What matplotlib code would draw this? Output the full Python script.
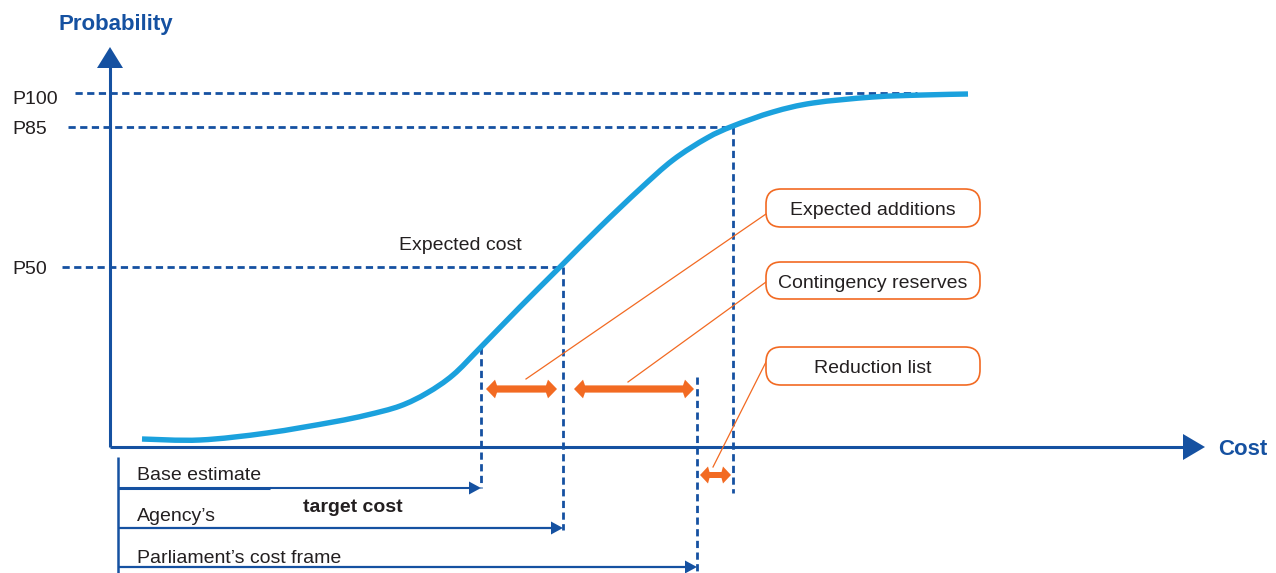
import matplotlib
matplotlib.use("Agg")
import matplotlib.pyplot as plt
from matplotlib import font_manager
from matplotlib.patches import Polygon, FancyBboxPatch, PathPatch
from matplotlib.path import Path
import numpy as np

# ---------------------------------------------------------------- data
# cumulative probability curve (schematic units: cost to the right, probability up)
curve_cost = [32, 90, 157, 223, 257, 290, 317, 343, 370, 410, 450, 490,
              530, 563, 597, 623, 663, 703, 763, 813, 858]
curve_prob = [8, 7, 14, 25, 32, 41, 54, 72, 99, 140, 180, 220,
              258, 287, 309, 321, 335, 344, 350, 352, 353]

prob_labels = ["P100", "P85", "P50"]
prob_levels = [354, 320, 180]

base_cost = 371        # base estimate
expected_cost = 453    # expected cost (P50) = agency's target cost
frame_cost = 587       # parliament's cost frame
p85_cost = 623         # P85 cost

cost_bars = ["Base estimate", "Agency\u2019s", "Parliament\u2019s cost frame"]
cost_bar_ends = [base_cost, expected_cost, frame_cost]

callouts = ["Expected additions", "Contingency reserves", "Reduction list"]

# ---------------------------------------------------------------- style
BLUE = "#1551A1"
CURVE = "#1BA1DD"
ORANGE = "#F26A22"
TEXT = "#231F20"

names = {f.name for f in font_manager.fontManager.ttflist}
if "Liberation Sans Narrow" in names:
    REG = ["Liberation Sans Narrow", "DejaVu Sans"]
    REG_SIZE = 16.5
else:
    REG = ["Liberation Sans", "DejaVu Sans"]
    REG_SIZE = 14
BOLD = ["Liberation Sans", "DejaVu Sans"]
TXT_DY = -2.5   # small downward nudge so glyphs sit on their guide lines

W, H = 1276, 573
fig = plt.figure(figsize=(W / 100, H / 100), dpi=100)
ax = fig.add_axes([0, 0, 1, 1])
# origin of the chart sits at the axes crossing; one unit = one pixel
ax.set_xlim(-110, W - 110)
ax.set_ylim(447 - H, 447)
ax.axis("off")

DASH = (0, (2.6, 1.6))


def label(x, y, s, **kw):
    opts = dict(color=TEXT, fontsize=REG_SIZE, family=REG, va="center")
    opts.update(kw)
    ax.text(x, y + TXT_DY, s, **opts)


def head(tip_x, tip_y, dx, dy, length, half, color):
    """Filled triangular arrow head pointing along (dx, dy)."""
    px, py = -dy, dx
    bx, by = tip_x - dx * length, tip_y - dy * length
    pts = [(tip_x, tip_y), (bx + px * half, by + py * half),
           (bx - px * half, by - py * half)]
    ax.add_patch(Polygon(pts, closed=True, color=color, lw=0, zorder=6))


def double_arrow(x0, x1, y, shaft, half, corner, neck, color):
    pts = [(x0, y), (x0 + corner, y + half), (x0 + neck, y + shaft),
           (x1 - neck, y + shaft), (x1 - corner, y + half), (x1, y),
           (x1 - corner, y - half), (x1 - neck, y - shaft),
           (x0 + neck, y - shaft), (x0 + corner, y - half)]
    ax.add_patch(Polygon(pts, closed=True, color=color, lw=0, zorder=7))


def smooth_path(xs, ys):
    """Cubic Bezier path passing through every point (Catmull-Rom tangents)."""
    p = np.column_stack([xs, ys]).astype(float)
    ext = np.vstack([p[0], p, p[-1]])
    verts = [p[0]]
    codes = [Path.MOVETO]
    for i in range(len(p) - 1):
        a, b, c, d = ext[i], ext[i + 1], ext[i + 2], ext[i + 3]
        verts += [b + (c - a) / 6.0, c - (d - b) / 6.0, c]
        codes += [Path.CURVE4] * 3
    return Path(verts, codes)


# ---------------------------------------------------------------- axes
ax.plot([0, 0], [0, 381], color=BLUE, lw=2.2, solid_capstyle="butt", zorder=5)
head(0, 400, 0, 1, 21, 13, BLUE)
ax.plot([0, 1075], [0, 0], color=BLUE, lw=2.2, solid_capstyle="butt", zorder=5)
head(1095, 0, 1, 0, 22, 13, BLUE)
label(6, 425, "Probability", ha="center", color=BLUE, fontsize=16,
      fontweight="bold", family=BOLD)
label(1108, 0, "Cost", ha="left", color=BLUE, fontsize=16,
      fontweight="bold", family=BOLD)

# ---------------------------------------------------------------- probability levels
level_start = [-35, -42, -48]
level_end = [807, p85_cost, expected_cost]
label_shift = [-4, 0, 0]
for lab, lev, x0, x1, sh in zip(prob_labels, prob_levels, level_start,
                                level_end, label_shift):
    ax.plot([x0, x1], [lev, lev], color=BLUE, lw=2, linestyle=DASH, zorder=3)
    label(-98, lev + sh, lab, ha="left")

# ---------------------------------------------------------------- vertical cost markers
base_prob = float(np.interp(base_cost, curve_cost, curve_prob))
ax.plot([base_cost, base_cost], [base_prob, -41], color=BLUE, lw=2,
        linestyle=DASH, zorder=3)
ax.plot([expected_cost, expected_cost], [prob_levels[2], -83], color=BLUE,
        lw=2, linestyle=DASH, zorder=3)
ax.plot([frame_cost, frame_cost], [70, -125], color=BLUE, lw=2,
        linestyle=DASH, zorder=3)
ax.plot([p85_cost, p85_cost], [prob_levels[1], -46], color=BLUE, lw=2,
        linestyle=DASH, zorder=3)

# ---------------------------------------------------------------- S-curve
ax.add_patch(PathPatch(smooth_path(curve_cost, curve_prob), fill=False,
                       edgecolor=CURVE, lw=3.9, capstyle="butt",
                       joinstyle="round", zorder=4))

label(350, 204, "Expected cost", ha="center")

# ---------------------------------------------------------------- cost build-up bars
bar_y = [-41, -81, -120]
ax.plot([8, 8], [-10, -126], color=BLUE, lw=1.8, solid_capstyle="butt")
for i, (end, y) in enumerate(zip(cost_bar_ends, bar_y)):
    if i == 0:
        ax.plot([8, 160], [y, y], color=BLUE, lw=2.2, solid_capstyle="butt")
        ax.plot([160, end - 10], [y, y], color=BLUE, lw=1.5,
                solid_capstyle="butt")
    else:
        ax.plot([8, end - 10], [y, y], color=BLUE, lw=1.6,
                solid_capstyle="butt")
    head(end, y, 1, 0, 12, 6.5, BLUE)
label(27, -26, cost_bars[0], ha="left")
label(27, -67, cost_bars[1], ha="left")
label(27, -109, cost_bars[2], ha="left")
label(193, -58, "target cost", ha="left", fontsize=14, fontweight="bold",
      family=BOLD)

# ---------------------------------------------------------------- orange ranges
double_arrow(base_cost + 5, expected_cost - 6, 58, 3.6, 9.3, 9, 11, ORANGE)
double_arrow(expected_cost + 11, frame_cost - 3, 58, 3.6, 9.3, 9, 11, ORANGE)
double_arrow(frame_cost + 3, p85_cost - 2, -28, 3, 8.5, 8, 9.5, ORANGE)

# ---------------------------------------------------------------- callout boxes
box_x0, box_x1 = 656, 870
box_y = [(220, 258), (148, 185), (62, 100)]
leader_from = [(416, 68), (518, 65), (603, -20)]
leader_to_y = [233, 165, 85]
for lab, (y0, y1), (lx, ly), ty in zip(callouts, box_y, leader_from,
                                       leader_to_y):
    ax.add_patch(FancyBboxPatch((box_x0, y0), box_x1 - box_x0, y1 - y0,
                                boxstyle="round,pad=0,rounding_size=15",
                                facecolor="white", edgecolor=ORANGE, lw=1.2,
                                zorder=6))
    label((box_x0 + box_x1) / 2, (y0 + y1) / 2, lab, ha="center", zorder=7)
    ax.plot([lx, box_x0], [ly, ty], color=ORANGE, lw=0.9, zorder=5)

fig.savefig("out.png", dpi=100)
